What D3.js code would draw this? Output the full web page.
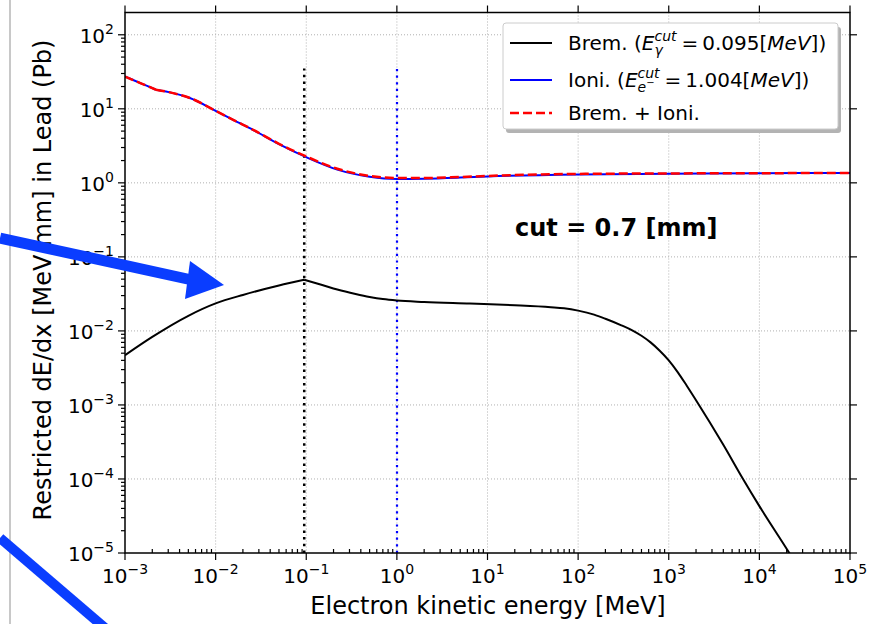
<!DOCTYPE html>
<meta charset="utf-8">
<head>
<style>
 body { margin: 0; background: #fff; }
 svg text { font-family: "DejaVu Sans", sans-serif; fill: #000; }
</style>
</head>
<body>
<div id="chart"></div>
</body>
<script src="https://d3js.org/d3.v7.min.js"></script>
<script>
 // restricted dE/dx of e- in lead [MeV, MeV/mm]
 const bremEnergy = [1e-3, 2e-3, 5e-3, 1e-2, 2e-2, 5e-2, 0.095, 0.15, 0.22, 0.35, 0.5, 0.7, 1, 2, 6.4, 20, 50, 70, 100, 150, 200, 300, 400, 500, 630, 790, 1000, 1260, 1580, 2000, 4000, 6600, 1e4, 2.14e4, 5e4];
 const bremDedx = [0.0047, 0.0083, 0.016, 0.0235, 0.0306, 0.041, 0.049, 0.0417, 0.0363, 0.0316, 0.0288, 0.0269, 0.0257, 0.0246, 0.0234, 0.0222, 0.0209, 0.0202, 0.0188, 0.0166, 0.0146, 0.0119, 0.0101, 0.0086, 0.0070, 0.00544, 0.0040, 0.00276, 0.00182, 0.00116, 2.9e-4, 1.0e-4, 4.3e-5, 1e-5, 1.8e-6];

 const ioniEnergy = [1e-3, 1.5e-3, 2.2e-3, 3.4e-3, 5.2e-3, 1e-2, 1.6e-2, 2.6e-2, 5e-2, 0.1, 0.22, 0.5, 1, 2, 5, 10, 100, 1e3, 1e4, 1e5];
 const ioniDedx = [27.3, 22.1, 18.1, 16.3, 14.0, 9.4, 7.0, 5.17, 3.33, 2.22, 1.51, 1.21, 1.13, 1.14, 1.18, 1.22, 1.30, 1.33, 1.35, 1.36];
 const totalDedx = [27.3, 22.1, 18.1, 16.3, 14.0, 9.4, 7.0, 5.2, 3.37, 2.27, 1.55, 1.24, 1.16, 1.16, 1.2, 1.24, 1.32, 1.34, 1.35, 1.36];

 const gammaCut = 0.095;     // MeV
 const electronCut = 1.004;  // MeV
 const cutLineTop = 35;
 const ioniKink = 2.2e-3;    // small bend in the tabulated ioni curve

 const xTickExp = [-3, -2, -1, 0, 1, 2, 3, 4, 5];
 const yTickExp = [-5, -4, -3, -2, -1, 0, 1, 2];

 const width = 875, height = 624;
 const margin = {left: 125, right: 850, top: 12.5, bottom: 553};

 const svg = d3.select("#chart").append("svg")
               .attr("width", width)
               .attr("height", height);

 const x = d3.scaleLog().domain([1e-3, 1e5]).range([margin.left, margin.right]);
 const y = d3.scaleLog().domain([1e-5, 2e2]).range([margin.bottom, margin.top]);

 const minus = "\u2212";
 function expText(e) { return e < 0 ? minus + (-e) : "" + e; }

 svg.append("clipPath").attr("id", "plot")
    .append("rect")
    .attr("x", margin.left).attr("y", margin.top)
    .attr("width", margin.right - margin.left)
    .attr("height", margin.bottom - margin.top);

 // grid
 const grid = svg.append("g")
                 .attr("stroke", "#b0b0b0")
                 .attr("stroke-width", 1)
                 .attr("stroke-dasharray", "1,2");
 grid.selectAll(".gx").data(xTickExp.slice(1, -1)).join("line")
     .attr("x1", d => x(Math.pow(10, d))).attr("x2", d => x(Math.pow(10, d)))
     .attr("y1", margin.top).attr("y2", margin.bottom);
 grid.selectAll(".gy").data(yTickExp.slice(1)).join("line")
     .attr("y1", d => y(Math.pow(10, d))).attr("y2", d => y(Math.pow(10, d)))
     .attr("x1", margin.left).attr("x2", margin.right);

 // cut markers
 svg.append("line")
    .attr("x1", x(gammaCut)).attr("x2", x(gammaCut))
    .attr("y1", y(1e-5)).attr("y2", y(cutLineTop))
    .attr("stroke", "#000").attr("stroke-width", 2.5)
    .attr("stroke-dasharray", "2.5,4.2");
 svg.append("line")
    .attr("x1", Math.round(x(electronCut))).attr("x2", Math.round(x(electronCut)))
    .attr("y1", y(1e-5)).attr("y2", y(cutLineTop))
    .attr("stroke", "#0000ff").attr("stroke-width", 2.2)
    .attr("stroke-dasharray", "2.2,4.4");

 // curves: smooth pieces, split where the tabulated curve has a kink
 const curves = svg.append("g").attr("clip-path", "url(#plot)").attr("fill", "none");
 const line = d3.line().x(d => x(d[0])).y(d => y(d[1])).curve(d3.curveMonotoneX);

 function splitPath(xs, ys, at) {
     const pts = d3.zip(xs, ys);
     const i = xs.indexOf(at);
     return line(pts.slice(0, i + 1)) + line(pts.slice(i));
 }

 curves.append("path")
       .attr("d", splitPath(bremEnergy, bremDedx, gammaCut))
       .attr("stroke", "#000").attr("stroke-width", 2);
 curves.append("path")
       .attr("d", splitPath(ioniEnergy, ioniDedx, ioniKink))
       .attr("stroke", "#0000ff").attr("stroke-width", 2);
 curves.append("path")
       .attr("d", splitPath(ioniEnergy, totalDedx, ioniKink))
       .attr("stroke", "#ff0000").attr("stroke-width", 2.5)
       .attr("stroke-dasharray", "9,4");

 // frame
 svg.append("rect")
    .attr("x", margin.left).attr("y", margin.top)
    .attr("width", margin.right - margin.left)
    .attr("height", margin.bottom - margin.top)
    .attr("fill", "none").attr("stroke", "#000").attr("stroke-width", 1.5);

 // ticks
 const ticks = svg.append("g").attr("stroke", "#000").attr("stroke-width", 1.2);
 const xMinor = x.ticks().filter(v => Math.abs(Math.log10(v) % 1) > 1e-6);
 const yMinor = y.ticks().filter(v => Math.abs(Math.log10(v) % 1) > 1e-6 && v < 2e2);

 xTickExp.forEach(e => {
     const px = x(Math.pow(10, e));
     ticks.append("line").attr("x1", px).attr("x2", px).attr("y1", margin.bottom).attr("y2", margin.bottom + 7);
     ticks.append("line").attr("x1", px).attr("x2", px).attr("y1", margin.top).attr("y2", margin.top - 7);
 });
 yTickExp.forEach(e => {
     const py = y(Math.pow(10, e));
     ticks.append("line").attr("y1", py).attr("y2", py).attr("x1", margin.left).attr("x2", margin.left - 7);
     ticks.append("line").attr("y1", py).attr("y2", py).attr("x1", margin.right).attr("x2", margin.right + 7);
 });
 ticks.selectAll(".xm").data(xMinor).join("line")
      .attr("x1", d => x(d)).attr("x2", d => x(d))
      .attr("y1", margin.bottom).attr("y2", margin.bottom - 4);
 ticks.selectAll(".ym").data(yMinor).join("line")
      .attr("y1", d => y(d)).attr("y2", d => y(d))
      .attr("x1", margin.left).attr("x2", margin.left - 4);

 // tick labels
 xTickExp.forEach(e => {
     const t = svg.append("text")
                  .attr("x", x(Math.pow(10, e)))
                  .attr("y", 583)
                  .attr("text-anchor", "middle")
                  .attr("font-size", 20);
     t.append("tspan").text("10");
     t.append("tspan").attr("dy", -9).attr("font-size", 14).text(expText(e));
 });
 yTickExp.forEach(e => {
     const t = svg.append("text")
                  .attr("x", 114)
                  .attr("y", y(Math.pow(10, e)) + 8)
                  .attr("text-anchor", "end")
                  .attr("font-size", 20);
     t.append("tspan").text("10");
     t.append("tspan").attr("dy", -9).attr("font-size", 14).text(expText(e));
 });

 // axis labels
 svg.append("text")
    .attr("x", 488).attr("y", 614)
    .attr("text-anchor", "middle")
    .attr("font-size", 24)
    .text("Electron kinetic energy [MeV]");
 svg.append("text")
    .attr("transform", "translate(51,280) rotate(-90)")
    .attr("text-anchor", "middle")
    .attr("font-size", 24)
    .text("Restricted dE/dx [MeV/mm] in Lead (Pb)");

 svg.append("text")
    .attr("x", 515).attr("y", 236)
    .attr("font-size", 24)
    .attr("font-weight", "bold")
    .text("cut = 0.7 [mm]");

 // legend
 const lg = svg.append("g");
 lg.append("rect")
   .attr("x", 506).attr("y", 27).attr("width", 335).attr("height", 106)
   .attr("rx", 3).attr("fill", "#b3b3b3");
 lg.append("rect")
   .attr("x", 503).attr("y", 23).attr("width", 335).attr("height", 106)
   .attr("rx", 3).attr("fill", "#fff").attr("stroke", "#cccccc");

 // lay out a row of text pieces, measuring each to place the next
 function mathRow(x0, y0, parts) {
     let cx = x0;
     parts.forEach(p => {
         if (p.sup !== undefined) {
             const a = lg.append("text").attr("x", cx).attr("y", y0 - 9)
                         .attr("font-size", 14).attr("font-style", "italic").text(p.sup);
             const b = lg.append("text").attr("x", cx).attr("y", y0 + 5)
                         .attr("font-size", 14).attr("font-style", "italic").text(p.sub);
             let wb = b.node().getComputedTextLength();
             if (p.subSup) {
                 const c = lg.append("text").attr("x", cx + wb).attr("y", y0 - 1)
                             .attr("font-size", 10).text(p.subSup);
                 wb += c.node().getComputedTextLength();
             }
             cx += Math.max(a.node().getComputedTextLength(), wb) + 5;
         } else {
             const t = lg.append("text").attr("x", cx).attr("y", y0)
                         .attr("font-size", 20)
                         .attr("font-style", p.it ? "italic" : null)
                         .text(p.t);
             cx += t.node().getComputedTextLength() + (p.pad || 0);
         }
     });
 }

 const legendRows = [
     {y: 43, color: "#000", dash: null, w: 2, parts: [
         {t: "Brem. ("}, {t: "E", it: 1}, {sup: "cut", sub: "\u03b3"},
         {t: "=", pad: 4}, {t: "0.095["}, {t: "MeV", it: 1}, {t: "])"}]},
     {y: 80, color: "#0000ff", dash: null, w: 2, parts: [
         {t: "Ioni. ("}, {t: "E", it: 1}, {sup: "cut", sub: "e", subSup: minus},
         {t: "=", pad: 4}, {t: "1.004["}, {t: "MeV", it: 1}, {t: "])"}]},
     {y: 113, color: "#ff0000", dash: "9,4", w: 2.5, parts: [
         {t: "Brem. + Ioni."}]}
 ];
 legendRows.forEach(r => {
     lg.append("line")
       .attr("x1", 510).attr("x2", 552).attr("y1", r.y).attr("y2", r.y)
       .attr("stroke", r.color).attr("stroke-width", r.w)
       .attr("stroke-dasharray", r.dash);
     mathRow(568, r.y + 7, r.parts);
 });

 // screenshot annotations: page edge and blue arrows
 svg.append("line")
    .attr("x1", 10).attr("x2", 10).attr("y1", 0).attr("y2", height)
    .attr("stroke", "#c8c8c8").attr("stroke-width", 2);
 const blue = "#0a3dff";
 svg.append("line")
    .attr("x1", 0).attr("y1", 238).attr("x2", 192).attr("y2", 280)
    .attr("stroke", blue).attr("stroke-width", 11);
 svg.append("path")
    .attr("d", "M224,285 L190,261 L185,299 Z")
    .attr("fill", blue);
 svg.append("line")
    .attr("x1", 0).attr("y1", 538).attr("x2", 105).attr("y2", 628)
    .attr("stroke", blue).attr("stroke-width", 10);
</script>
